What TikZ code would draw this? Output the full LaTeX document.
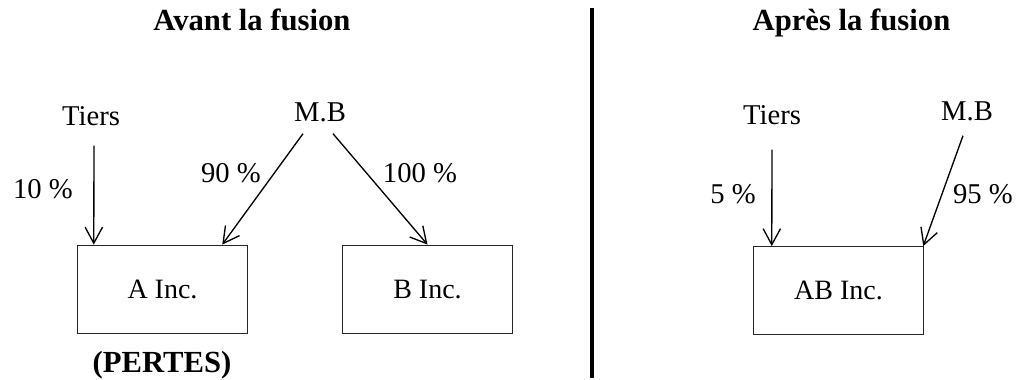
\documentclass[tikz,border=0pt]{standalone}
\usepackage{fontspec}
\setmainfont{Liberation Serif}
\usetikzlibrary{arrows.meta,calc,positioning}

\begin{document}
\begin{tikzpicture}[x=0.75pt,y=-0.75pt,>={Straight Barb[length=12pt,width=13pt]}]
    \tikzset{holding/.style={draw=black!85,line width=0.6pt,minimum width=128pt,minimum height=66pt,inner sep=0pt,text height=14pt,text depth=0pt,font=\fontsize{21}{24}\selectfont},
      owner/.style={anchor=base,inner sep=0pt,font=\fontsize{21.5}{24}\selectfont},
      share/.style={anchor=base,inner sep=0pt,font=\fontsize{21.5}{24}\selectfont},
      heading/.style={anchor=base,inner sep=0pt,font=\fontsize{23}{26}\selectfont\bfseries},
      stake/.style={->,line width=1pt}}
    \useasboundingbox (0,0) rectangle (1020,379);
    % avant la fusion
    \node[heading] (avant) at (252,30) {Avant la fusion};
    \node[owner] (tiersA) at (91,125) {Tiers};
    \node[owner] (mbA) at (320,121) {M.B};
    \node[holding] (boxA) at (162.5,289) {A Inc.};
    \node[holding] (boxB) at (427.5,289) {B Inc.};
    \node[heading] (pertes) at (162,372) {(PERTES)};
    \draw[stake] ($(tiersA.south)+(3,20)$) -- ($(boxA.north west)+(17,0)$);
    \draw[stake] ($(mbA.south)+(-17,12)$) -- ($(boxA.north east)+(-26,0)$);
    \draw[stake] ($(mbA.south)+(13,12)$) -- (boxB.north);
    \node[share] (pctA) at (43,198) {10 \%};
    \node[share] (pctB) at (231,182) {90 \%};
    \node[share] (pctC) at (420,182) {100 \%};
    % separation
    \coordinate (septop) at (592,8);
    \coordinate (sepbot) at (592,378);
    \draw[line width=2.6pt] (septop) -- (sepbot);
    % apres la fusion
    \node[heading] (apres) at (851.5,30) {Après la fusion};
    \node[owner] (tiersB) at (772,124) {Tiers};
    \node[owner] (mbB) at (967,120) {M.B};
    \node[holding] (boxAB) at (838.5,290.5) {AB Inc.};
    \draw[stake] ($(tiersB.south)+(0,25)$) -- ($(boxAB.north west)+(19,0)$);
    \draw[stake] ($(mbB.south)+(-4,15)$) -- ($(boxAB.north east)+(-1,0)$);
    \node[share] (pctD) at (733,203) {5 \%};
    \node[share] (pctE) at (983,203) {95 \%};
  \end{tikzpicture}
\end{document}
